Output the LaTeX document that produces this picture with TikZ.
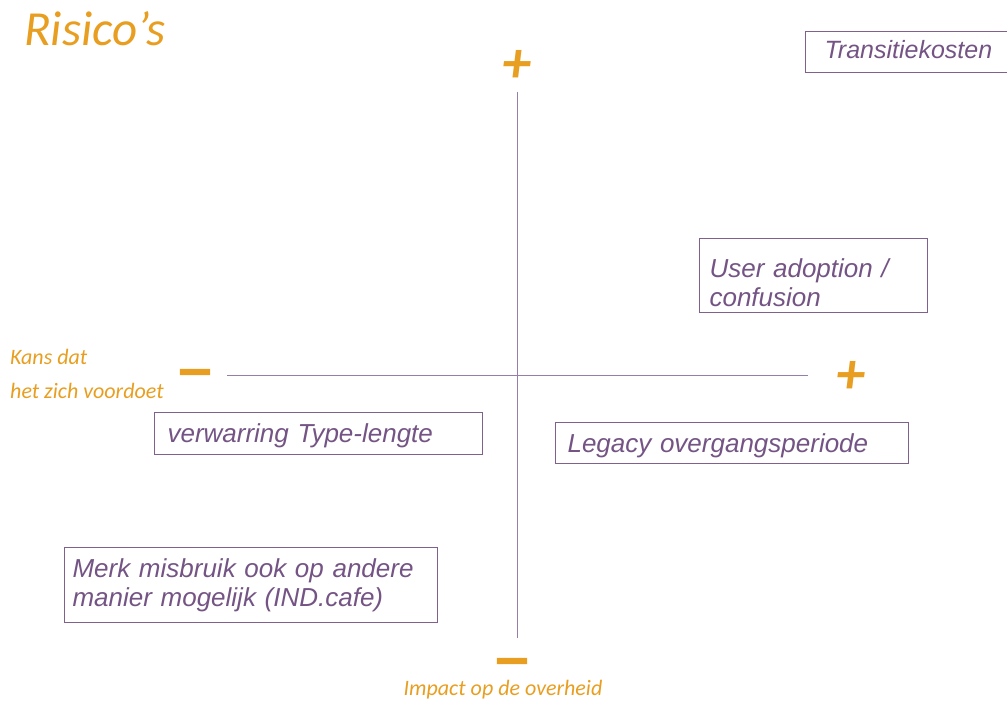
\documentclass[tikz,border=0pt]{standalone}
\usepackage{fontspec}
\setmainfont{Liberation Sans}
\newfontfamily\calib{Carlito}
\newfontfamily\dashfont[FakeStretch=1.42, FakeBold=2]{Carlito}
\newfontfamily\boxfont{Liberation Sans}

\definecolor{accent}{RGB}{232,158,32}
\definecolor{riskink}{RGB}{116,84,132}
\definecolor{riskline}{RGB}{128,96,140}
\definecolor{axisline}{RGB}{150,126,170}

\tikzset{
  riskbox/.style={draw=riskline, line width=1.1pt, anchor=north west,
    text=riskink, align=left, inner ysep=0pt,
    font=\boxfont\itshape\fontsize{26}{29}\selectfont},
  sign/.style={text=accent, inner sep=0pt,
    font=\calib\bfseries\itshape\fontsize{58}{58}\selectfont},
  dashsign/.style={sign, font=\dashfont\bfseries\fontsize{58}{58}\selectfont},
  axislabel/.style={text=accent, inner sep=0pt, anchor=base west,
    font=\calib\itshape\fontsize{22}{34}\selectfont},
  axis/.style={draw=axisline, line width=0.9pt},
}

\begin{document}
\begin{tikzpicture}[x=1pt,y=-1pt]
\useasboundingbox (0,0) rectangle (1007,703);

% title
\node[text=accent, inner sep=0pt, anchor=base west,
      font=\calib\itshape\fontsize{49}{49}\selectfont] (title) at (24,46) {Risico’s};

% axes
\coordinate (vtop) at (517,92);
\coordinate (vbot) at (517,638);
\coordinate (hleft) at (227,375);
\coordinate (hright) at (808,375);
\draw[axis] (vtop) -- (vbot);
\draw[axis] (hleft) -- (hright);

% axis end signs
\node[sign] (plusv) at (517,66) {+};
\node[sign] (plush) at (851,377) {+};
\node[dashsign] (minh) at (195,379) {–};
\node[dashsign] (minv) at (512,668) {–};

% axis captions
\node[axislabel, align=left, anchor=base west] (kans) at (10,398)
  {Kans dat\\het zich voordoet};
\node[axislabel, anchor=base] (impact) at (503,695) {Impact op de overheid};

% risks
\node[riskbox, minimum width=207pt, minimum height=41pt, inner xsep=19pt,
      text width=169pt, text height=19pt, text depth=6pt,
      font=\boxfont\itshape\fontsize{25}{29}\selectfont]
  (transitie) at (805,31) {Transitiekosten};
\node[riskbox, minimum width=228pt, minimum height=74pt, inner xsep=10pt,
      text width=208pt, text height=20pt, text depth=16pt]
  (adoption) at (699,238) {User adoption /\\confusion};
\node[riskbox, minimum width=328pt, minimum height=42pt, inner xsep=13pt,
      text width=302pt, text height=24pt, text depth=6pt]
  (verwarring) at (154,412) {verwarring Type-lengte};
\node[riskbox, minimum width=353pt, minimum height=41pt, inner xsep=12pt,
      text width=329pt, text height=25pt, text depth=6pt]
  (legacy) at (555,422) {Legacy overgangsperiode};
\node[riskbox, minimum width=373pt, minimum height=75pt, inner xsep=8pt,
      text width=357pt, text height=20pt, text depth=35pt]
  (merk) at (64,547) {Merk misbruik ook op andere\\manier mogelijk (IND.cafe)};
\end{tikzpicture}
\end{document}
